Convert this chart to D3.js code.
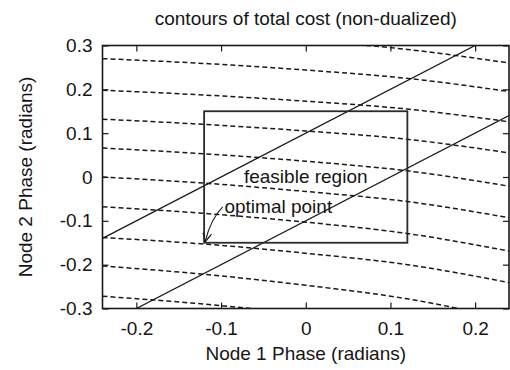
<!DOCTYPE html>
<html>
<head>
<meta charset="utf-8">
<script src="https://cdn.jsdelivr.net/npm/d3@7"></script>
<style>
  body { margin: 0; background: #fff; }
  text { font-family: "Liberation Sans", Arial, sans-serif; fill: #151515; }
</style>
</head>
<body>
<div id="chart"></div>
<script>
// contour levels at five x positions
var contourX = [-0.24, -0.12, 0, 0.12, 0.24];
var contourY = [
	[0.338, 0.326, 0.311, 0.291, 0.260],
	[0.270, 0.259, 0.244, 0.225, 0.195],
	[0.198, 0.187, 0.173, 0.155, 0.126],
	[0.132, 0.120, 0.105, 0.086, 0.055],
	[0.066, 0.053, 0.036, 0.014, -0.021],
	[0.000, -0.014, -0.033, -0.056, -0.093],
	[-0.068, -0.083, -0.103, -0.129, -0.169],
	[-0.138, -0.153, -0.174, -0.200, -0.241],
	[-0.203, -0.222, -0.247, -0.278, -0.325],
	[-0.272, -0.290, -0.313, -0.342, -0.389]
];
// the two solid constraint lines (end points)
var constraintX = [[-0.24, 0.2], [-0.2, 0.24]];
var constraintY = [[-0.14, 0.3], [-0.3, 0.14]];
var boxX = [-0.12, 0.12];
var boxY = [-0.15, 0.15];
var optimalPoint = [-0.12, -0.15];
var xTicks = [-0.2, -0.1, 0, 0.1, 0.2];
var xTickLabels = ["-0.2", "-0.1", "0", "0.1", "0.2"];
var yTicks = [-0.3, -0.2, -0.1, 0, 0.1, 0.2, 0.3];
var yTickLabels = ["-0.3", "-0.2", "-0.1", "0", "0.1", "0.2", "0.3"];

var width = 510, height = 370;
var plotLeft = 102.5, plotRight = 509, plotTop = 45.5, plotBottom = 308.5;
var fontSize = "19px";

var x = d3.scaleLinear().domain([-0.24, 0.24]).range([plotLeft, plotRight]);
var y = d3.scaleLinear().domain([-0.3, 0.3]).range([plotBottom, plotTop]);

var svg = d3.select("#chart")
	.append("svg")
	.attr("width", width)
	.attr("height", height)
	.attr("viewBox", [0, 0, width, height]);

svg.append("clipPath")
	.attr("id", "plotclip")
	.append("rect")
	.attr("x", plotLeft).attr("y", plotTop)
	.attr("width", plotRight - plotLeft).attr("height", plotBottom - plotTop);

var plot = svg.append("g").attr("clip-path", "url(#plotclip)");

var line = d3.line()
	.x(function(d){ return x(d[0]); })
	.y(function(d){ return y(d[1]); })
	.curve(d3.curveMonotoneX);

// dashed cost contours
plot.selectAll(".contour")
	.data(contourY)
	.join("path")
	.attr("class", "contour")
	.attr("d", function(row){
		return line(row.map(function(v, i){ return [contourX[i], v]; }));
	})
	.attr("fill", "none")
	.attr("stroke", "#1a1a1a")
	.attr("stroke-width", 1.5)
	.attr("stroke-dasharray", "5,3");

// solid lines
plot.selectAll(".constraint")
	.data(constraintX)
	.join("path")
	.attr("class", "constraint")
	.attr("d", function(xs, i){
		return d3.line().x(function(d){ return x(d[0]); }).y(function(d){ return y(d[1]); })
			(xs.map(function(v, j){ return [v, constraintY[i][j]]; }));
	})
	.attr("fill", "none")
	.attr("stroke", "#1a1a1a")
	.attr("stroke-width", 1.3);

// feasible region box
svg.append("rect")
	.attr("x", x(boxX[0]))
	.attr("y", y(boxY[1]))
	.attr("width", x(boxX[1]) - x(boxX[0]))
	.attr("height", y(boxY[0]) - y(boxY[1]))
	.attr("fill", "none")
	.attr("stroke", "#2a2a2a")
	.attr("stroke-width", 1.8);

// axes, ticks pointing inward on all four sides
svg.append("g")
	.attr("transform", "translate(0," + plotBottom + ")")
	.call(d3.axisBottom(x).tickValues(xTicks).tickSize(-6).tickPadding(13)
		.tickFormat(function(d, i){ return xTickLabels[i]; }));
svg.append("g")
	.attr("transform", "translate(" + plotLeft + ",0)")
	.call(d3.axisLeft(y).tickValues(yTicks).tickSize(-6).tickPadding(10)
		.tickFormat(function(d, i){ return yTickLabels[i]; }));
svg.append("g")
	.attr("transform", "translate(0," + plotTop + ")")
	.call(d3.axisTop(x).tickValues(xTicks).tickSize(-6).tickFormat(""));
svg.append("g")
	.attr("transform", "translate(" + plotRight + ",0)")
	.call(d3.axisRight(y).tickValues(yTicks).tickSize(-6).tickFormat(""));

svg.selectAll(".domain").remove();
svg.selectAll(".tick line").attr("stroke", "#1a1a1a").attr("stroke-width", 1.2);
svg.selectAll(".tick text")
	.attr("font-family", "Liberation Sans, Arial, sans-serif")
	.attr("font-size", fontSize)
	.attr("fill", "#151515");

svg.append("rect")
	.attr("x", plotLeft).attr("y", plotTop)
	.attr("width", plotRight - plotLeft).attr("height", plotBottom - plotTop)
	.attr("fill", "none")
	.attr("stroke", "#1a1a1a")
	.attr("stroke-width", 1.6);

// labels
svg.append("text")
	.attr("x", (plotLeft + plotRight) / 2)
	.attr("y", 25)
	.attr("text-anchor", "middle")
	.style("font-size", fontSize)
	.text("contours of total cost (non-dualized)");

svg.append("text")
	.attr("x", (plotLeft + plotRight) / 2)
	.attr("y", 360)
	.attr("text-anchor", "middle")
	.style("font-size", fontSize)
	.text("Node 1 Phase (radians)");

svg.append("text")
	.attr("transform", "translate(32," + (plotTop + plotBottom) / 2 + ") rotate(-90)")
	.attr("text-anchor", "middle")
	.style("font-size", fontSize)
	.text("Node 2 Phase (radians)");

svg.append("text")
	.attr("x", x(0))
	.attr("y", y(-0.014))
	.attr("text-anchor", "middle")
	.style("font-size", fontSize)
	.text("feasible region");

svg.append("text")
	.attr("x", x(-0.096))
	.attr("y", y(-0.082))
	.style("font-size", fontSize)
	.text("optimal point");

// arrow to the optimal point
svg.append("defs").append("marker")
	.attr("id", "head")
	.attr("viewBox", "0 0 10 10")
	.attr("refX", 10).attr("refY", 5)
	.attr("markerWidth", 9).attr("markerHeight", 9)
	.attr("markerUnits", "userSpaceOnUse")
	.attr("orient", "auto")
	.append("path")
	.attr("d", "M0,0L10,5L0,10")
	.attr("fill", "none")
	.attr("stroke", "#1a1a1a")
	.attr("stroke-width", 1.4);

var ax0 = x(-0.098), ay0 = y(-0.068);
var ax1 = x(optimalPoint[0]) + 1, ay1 = y(optimalPoint[1]) - 1;
svg.append("path")
	.attr("d", "M" + ax0 + "," + ay0 + "Q" + (ax0 - 12) + "," + (ay0 + 12) + " " + ax1 + "," + ay1)
	.attr("fill", "none")
	.attr("stroke", "#1a1a1a")
	.attr("stroke-width", 1.1)
	.attr("marker-end", "url(#head)");
</script>
</body>
</html>
